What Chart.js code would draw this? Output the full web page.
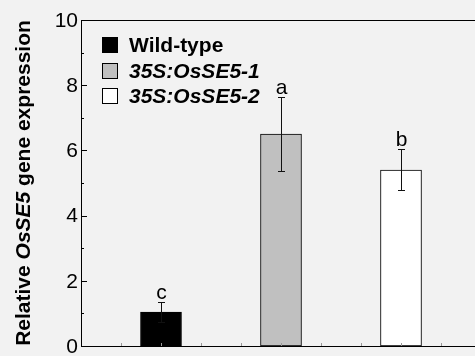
<!DOCTYPE html>
<html>
<head>
<meta charset="utf-8">
<script src="https://cdn.jsdelivr.net/npm/chart.js@4"></script>
<style>
  html, body { margin: 0; padding: 0; background: #f2f2f2; overflow: hidden; }
  #wrap { width: 481px; height: 356px; }
</style>
</head>
<body>
<div id="wrap"><canvas id="exprChart" width="481" height="356"></canvas></div>
<script>
  // data
  const groups = ['Wild-type', '35S:OsSE5-1', '35S:OsSE5-2'];
  const positions = [2, 5, 8];
  const means = [1.04, 6.5, 5.4];
  const errors = [0.30, 1.13, 0.63];
  const letters = ['c', 'a', 'b'];
  const barColors = ['#000000', '#c0c0c0', '#ffffff'];
  const yTicks = [0, 2, 4, 6, 8, 10];

  const FONT = '"Liberation Sans", Arial, Helvetica, sans-serif';

  const extras = {
    id: 'extras',
    afterDatasetsDraw(chart) {
      const { ctx, chartArea: a, scales: { x, y } } = chart;
      ctx.save();

      // top frame line
      ctx.strokeStyle = '#000';
      ctx.lineWidth = 1;
      ctx.beginPath();
      ctx.moveTo(a.left, a.top + 0.5);
      ctx.lineTo(a.right, a.top + 0.5);
      ctx.stroke();

      // inward y ticks, major every 2, minor at odd values
      for (let v = 0; v <= 10; v++) {
        const py = Math.round(y.getPixelForValue(v)) + 0.5;
        const len = v % 2 === 0 ? 6 : 3;
        ctx.beginPath();
        ctx.moveTo(a.left, py);
        ctx.lineTo(a.left + len, py);
        ctx.stroke();
      }
      // y tick labels
      ctx.fillStyle = '#000';
      ctx.font = '21px ' + FONT;
      ctx.textAlign = 'right';
      ctx.textBaseline = 'middle';
      yTicks.forEach(v => ctx.fillText(String(v), a.left - 3, y.getPixelForValue(v) + 1));

      // small x ticks along the bottom
      ctx.strokeStyle = '#999';
      for (let v = 1; v <= 10; v++) {
        const px = Math.round(x.getPixelForValue(v)) + 0.5;
        ctx.beginPath();
        ctx.moveTo(px, a.bottom);
        ctx.lineTo(px, a.bottom - 3);
        ctx.stroke();
      }

      // error bars and letters
      ctx.strokeStyle = '#111';
      ctx.textAlign = 'center';
      ctx.textBaseline = 'alphabetic';
      positions.forEach((p, i) => {
        const px = Math.round(x.getPixelForValue(p)) + 0.5;
        const top = Math.round(y.getPixelForValue(means[i] + errors[i])) + 0.5;
        const bot = Math.round(y.getPixelForValue(means[i] - errors[i])) + 0.5;
        ctx.beginPath();
        ctx.moveTo(px, top); ctx.lineTo(px, bot);
        ctx.moveTo(px - 3.5, top); ctx.lineTo(px + 3.5, top);
        ctx.moveTo(px - 3.5, bot); ctx.lineTo(px + 3.5, bot);
        ctx.stroke();
        ctx.fillText(letters[i], px, top - 4);
      });

      // legend
      const rows = [45, 71, 96];
      groups.forEach((g, i) => {
        ctx.fillStyle = barColors[i];
        ctx.fillRect(102.5, rows[i] - 7.5, 15, 15);
        ctx.strokeStyle = '#000';
        ctx.strokeRect(102.5, rows[i] - 7.5, 15, 15);
        ctx.fillStyle = '#000';
        ctx.textAlign = 'left';
        ctx.textBaseline = 'middle';
        ctx.font = (i === 0 ? 'bold ' : 'italic bold ') + '21px ' + FONT;
        ctx.fillText(g, 129, rows[i] + 1);
      });

      // y axis title with italic gene name
      ctx.translate(30, (a.top + a.bottom) / 2);
      ctx.rotate(-Math.PI / 2);
      const parts = [['Relative ', 'bold'], ['OsSE5', 'italic bold'], [' gene expression', 'bold']];
      let total = 0;
      parts.forEach(([t, f]) => { ctx.font = f + ' 21px ' + FONT; total += ctx.measureText(t).width; });
      let cx = -total / 2;
      ctx.textAlign = 'left';
      ctx.textBaseline = 'alphabetic';
      parts.forEach(([t, f]) => {
        ctx.font = f + ' 21px ' + FONT;
        ctx.fillText(t, cx, 0);
        cx += ctx.measureText(t).width;
      });
      ctx.restore();
    }
  };

  new Chart(document.getElementById('exprChart'), {
    type: 'bar',
    data: {
      datasets: [{
        data: positions.map((p, i) => ({ x: p, y: means[i] })),
        backgroundColor: barColors,
        borderColor: '#000',
        borderWidth: 1,
        borderSkipped: false,
        barThickness: 41
      }]
    },
    options: {
      responsive: false,
      animation: false,
      layout: { padding: { top: 20, left: 0, right: 0, bottom: 0 } },
      plugins: { legend: { display: false }, tooltip: { enabled: false } },
      scales: {
        x: {
          type: 'linear',
          min: 0,
          max: 10,
          offset: false,
          grid: { display: false },
          border: { display: true, color: '#000', width: 1 },
          ticks: { display: false },
          afterFit: s => { s.height = 10; }
        },
        y: {
          min: 0,
          max: 10,
          grid: { display: false },
          border: { display: true, color: '#000', width: 1 },
          ticks: { display: false },
          afterFit: s => { s.width = 81; }
        }
      }
    },
    plugins: [extras]
  });
</script>
</body>
</html>
